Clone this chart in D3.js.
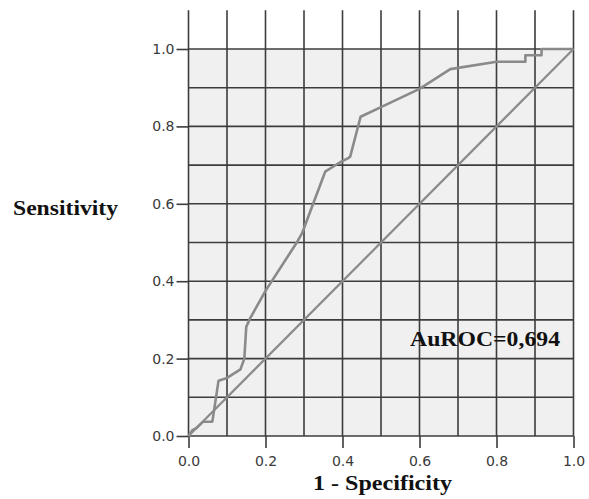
<!DOCTYPE html>
<html>
<head>
<meta charset="utf-8">
<script src="https://cdn.jsdelivr.net/npm/d3@7"></script>
<style>
    body { margin: 0; background: #fff; }
    .tick text { font-family: "DejaVu Sans", sans-serif; font-size: 14px; fill: #3a3a3a; }
    .title { font-family: "Liberation Serif", "Times New Roman", serif; font-weight: bold; fill: #111; }
</style>
</head>
<body>
<script>
// ROC curve points (1 - specificity, sensitivity)
const fpr = [0, 0.01, 0.02, 0.038, 0.062, 0.078, 0.1, 0.135, 0.145, 0.15, 0.16, 0.2, 0.28, 0.295,
    0.355, 0.395, 0.415, 0.42, 0.447, 0.5, 0.6, 0.68, 0.8, 0.875, 0.875, 0.917, 0.917, 1];
const tpr = [0, 0.015, 0.02, 0.037, 0.037, 0.143, 0.15, 0.172, 0.2, 0.282, 0.304, 0.375, 0.498, 0.524,
    0.683, 0.708, 0.718, 0.722, 0.825, 0.85, 0.897, 0.948, 0.967, 0.967, 0.984, 0.984, 1, 1];
const refLine = [0, 1];
const gridValues = [0, 0.1, 0.2, 0.3, 0.4, 0.5, 0.6, 0.7, 0.8, 0.9, 1.0];
const tickValues = [0, 0.2, 0.4, 0.6, 0.8, 1.0];
const xTitle = "1 - Specificity";
const yTitle = "Sensitivity";
const aucLabel = "AuROC=0,694";

const w = 589, h = 499;
const svg = d3.select("body").append("svg")
    .attr("width", w)
    .attr("height", h);

const x = d3.scaleLinear().domain([0, 1]).range([188.5, 573.5]);
const y = d3.scaleLinear().domain([0, 1]).range([436, 49]);
const gridTop = y(1.1);

//Plot background
svg.append("rect")
    .attr("x", x(0)).attr("y", y(1))
    .attr("width", x(1) - x(0)).attr("height", y(0) - y(1))
    .attr("fill", "#f0f0f0");

//Gridlines
const grid = svg.append("g").attr("stroke", "#3c3c3c").attr("stroke-width", 1.6);
grid.selectAll(".hgrid")
    .data(gridValues)
    .enter().append("line")
    .attr("x1", x(0)).attr("x2", x(1))
    .attr("y1", d => y(d)).attr("y2", d => y(d));
grid.selectAll(".vgrid")
    .data(gridValues)
    .enter().append("line")
    .attr("x1", d => x(d)).attr("x2", d => x(d))
    .attr("y1", gridTop).attr("y2", y(0));

//Axes (ticks + labels only)
const xAxis = d3.axisBottom(x).tickValues(tickValues).tickFormat(d3.format(".1f"))
    .tickSizeInner(12).tickSizeOuter(0).tickPadding(8);
const yAxis = d3.axisLeft(y).tickValues(tickValues).tickFormat(d3.format(".1f"))
    .tickSizeInner(12).tickSizeOuter(0).tickPadding(2);

const xg = svg.append("g").attr("transform", "translate(0," + y(0) + ")").call(xAxis);
const yg = svg.append("g").attr("transform", "translate(" + x(0) + ",0)").call(yAxis);
[xg, yg].forEach(g => {
    g.select(".domain").remove();
    g.selectAll(".tick line").attr("stroke", "#3c3c3c").attr("stroke-width", 1.6);
});

//Reference diagonal
svg.append("line")
    .attr("x1", x(refLine[0])).attr("y1", y(refLine[0]))
    .attr("x2", x(refLine[1])).attr("y2", y(refLine[1]))
    .attr("stroke", "#8a8a8a").attr("stroke-width", 2.2);

//ROC curve
const line = d3.line()
    .x(d => x(d[0]))
    .y(d => y(d[1]));
svg.append("path")
    .datum(d3.zip(fpr, tpr))
    .attr("d", line)
    .attr("fill", "none")
    .attr("stroke", "#8a8a8a")
    .attr("stroke-width", 2.6)
    .attr("stroke-linejoin", "round");

//Titles
svg.append("text").attr("class", "title")
    .attr("x", 13).attr("y", 215)
    .attr("font-size", 20)
    .attr("textLength", 105).attr("lengthAdjust", "spacingAndGlyphs")
    .text(yTitle);
svg.append("text").attr("class", "title")
    .attr("x", 313).attr("y", 490)
    .attr("font-size", 20)
    .attr("textLength", 139).attr("lengthAdjust", "spacingAndGlyphs")
    .text(xTitle);
svg.append("text").attr("class", "title")
    .attr("x", 410).attr("y", 346)
    .attr("font-size", 20)
    .attr("textLength", 150).attr("lengthAdjust", "spacingAndGlyphs")
    .text(aucLabel);
</script>
</body>
</html>
